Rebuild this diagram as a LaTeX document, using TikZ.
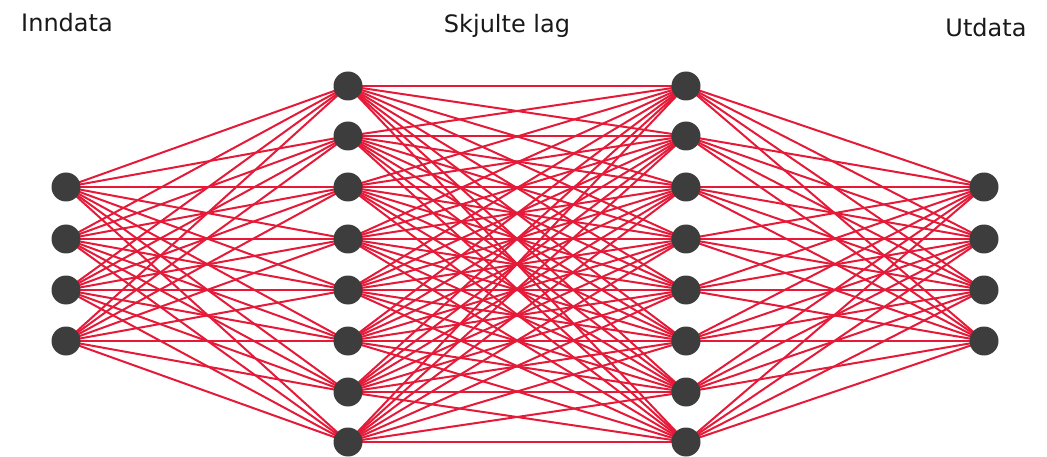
\documentclass[tikz,border=0pt]{standalone}
\usepackage{fontspec}
\setmainfont{DejaVu Sans}
\usetikzlibrary{backgrounds}
\definecolor{edgered}{RGB}{228,26,56}
\definecolor{nodegray}{RGB}{61,61,61}
\begin{document}
\begin{tikzpicture}[x=1pt,y=-1pt,
  neuron/.style={circle,fill=nodegray,inner sep=0pt,minimum size=29pt},
  link/.style={draw=edgered,line width=2pt},
  title/.style={font=\fontsize{24}{28}\selectfont,text=black!90,anchor=base,inner sep=0pt}]
\useasboundingbox (0,0) rectangle (1047,457);
% neurons
\foreach \i/\y in {1/187,2/239,3/290,4/341}{
  \node[neuron] (nin\i) at (66,\y) {};
  \node[neuron] (nout\i) at (984,\y) {};
}
\foreach \i/\y in {1/86,2/136,3/187,4/239,5/290,6/341,7/392,8/442}{
  \node[neuron] (nha\i) at (348,\y) {};
  \node[neuron] (nhb\i) at (686,\y) {};
}
% connections
\begin{scope}[on background layer]
\foreach \i in {1,...,4}{\foreach \j in {1,...,8}{\draw[link] (nin\i.center) -- (nha\j.center);}}
\foreach \i in {1,...,8}{\foreach \j in {1,...,8}{\draw[link] (nha\i.center) -- (nhb\j.center);}}
\foreach \i in {1,...,8}{\foreach \j in {1,...,4}{\draw[link] (nhb\i.center) -- (nout\j.center);}}
\end{scope}
% titles
\node[title] (tin) at (67,32) {Inndata};
\node[title] (thid) at (507,33) {Skjulte lag};
\node[title] (tout) at (986,37) {Utdata};
\end{tikzpicture}
\end{document}
